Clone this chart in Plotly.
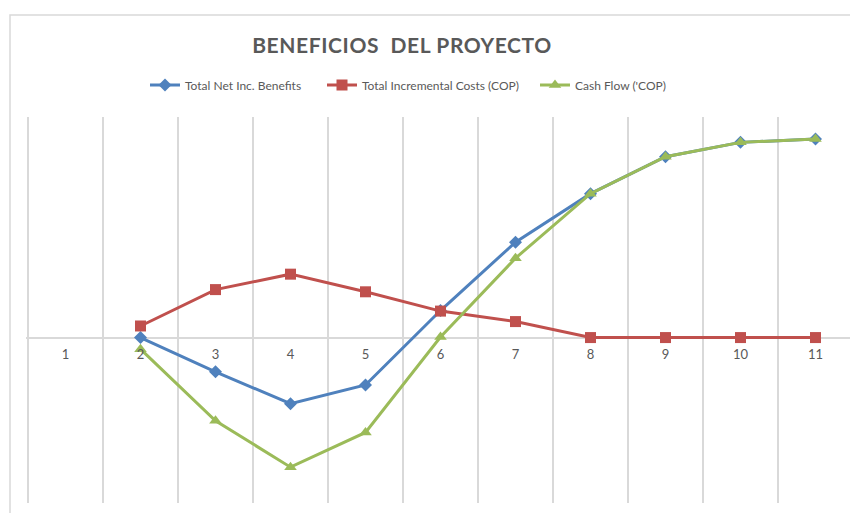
import plotly.graph_objects as go

categories = ["1", "2", "3", "4", "5", "6", "7", "8", "9", "10", "11"]
net_benefits = [None, 0, -62, -120, -86, 49, 173, 261, 328, 354, 360]
incremental_costs = [None, 21, 87, 115, 83, 48, 29, 0, 0, 0, 0]
cash_flow = [None, -21, -151, -235, -172, 1, 144, 261, 328, 354, 360]

series_names = ["Total Net Inc. Benefits", "Total Incremental Costs (COP)", "Cash Flow ('COP)"]
FONT = "Lato, 'Open Sans', sans-serif"
GRAY = "#595959"
GRID = "#d9d9d9"

# page body has an 8px margin; layout positions are compensated for it
OFF = 8
W, H = 858, 513
GRID_L, GRID_R = 28, 853          # outer category boundaries in the picture
PAD = 2                           # keep the edge gridlines just inside the plot area
L, R_EDGE, T, B_EDGE = GRID_L - PAD - OFF, GRID_R + PAD - OFF, 117 - OFF, 503 - OFF
PW, PH = R_EDGE - L, B_EDGE - T
UNIT = (GRID_R - GRID_L) / len(categories)
XR = [-0.5 - PAD / UNIT, len(categories) - 0.5 + PAD / UNIT]

def px_x(px):
    return (px - OFF - L) / PW

def px_y(py):
    return (B_EDGE - (py - OFF)) / PH

fig = go.Figure()
fig.add_trace(go.Scatter(x=categories, y=net_benefits, name=series_names[0], mode="lines+markers",
                         legend="legend",
                         line=dict(color="#4F81BD", width=3),
                         marker=dict(symbol="diamond", size=10, color="#4F81BD")))
fig.add_trace(go.Scatter(x=categories, y=incremental_costs, name=series_names[1], mode="lines+markers",
                         legend="legend2",
                         line=dict(color="#C0504D", width=3),
                         marker=dict(symbol="square", size=11, color="#C0504D")))
fig.add_trace(go.Scatter(x=categories, y=cash_flow, name=series_names[2], mode="lines+markers",
                         legend="legend3",
                         line=dict(color="#9BBB59", width=3),
                         marker=dict(symbol="triangle-up", size=11, color="#9BBB59")))

leg_common = dict(orientation="h", xanchor="left", yanchor="middle", y=px_y(85),
                  font=dict(size=12, color=GRAY), itemwidth=30, bgcolor="rgba(0,0,0,0)")

fig.update_layout(
    width=W, height=H,
    margin=dict(l=L, r=W - R_EDGE, t=T, b=H - B_EDGE, autoexpand=False),
    paper_bgcolor="white", plot_bgcolor="white",
    font=dict(family=FONT, color=GRAY),
    title=dict(text='<b><span style="letter-spacing:0.6px">BENEFICIOS  DEL PROYECTO</span></b>',
               x=(402 - OFF) / W, xanchor="center", y=1 - (46 - OFF) / H, yanchor="middle",
               font=dict(size=21, color=GRAY, family=FONT)),
    legend=dict(x=px_x(145), **leg_common),
    legend2=dict(x=px_x(322), **leg_common),
    legend3=dict(x=px_x(535), **leg_common),
    showlegend=True,
    xaxis=dict(type="category", categoryorder="array", categoryarray=categories,
               range=XR, tickson="boundaries", showgrid=True, gridcolor=GRID, gridwidth=1.5,
               anchor="free", position=3/7, showline=False, ticks="", zeroline=False,
               ticklabelstandoff=7, tickfont=dict(size=13, color=GRAY)),
    yaxis=dict(range=[-300, 400], showgrid=False, zeroline=True, zerolinecolor=GRID, zerolinewidth=1.5,
               showticklabels=False, ticks=""),
    shapes=[dict(type="rect", xref="paper", yref="paper",
                 x0=px_x(10), x1=1.2, y0=-0.3, y1=px_y(15),
                 line=dict(color=GRID, width=1.5), fillcolor="rgba(0,0,0,0)", layer="below")],
)

fig.write_html("out.html")
